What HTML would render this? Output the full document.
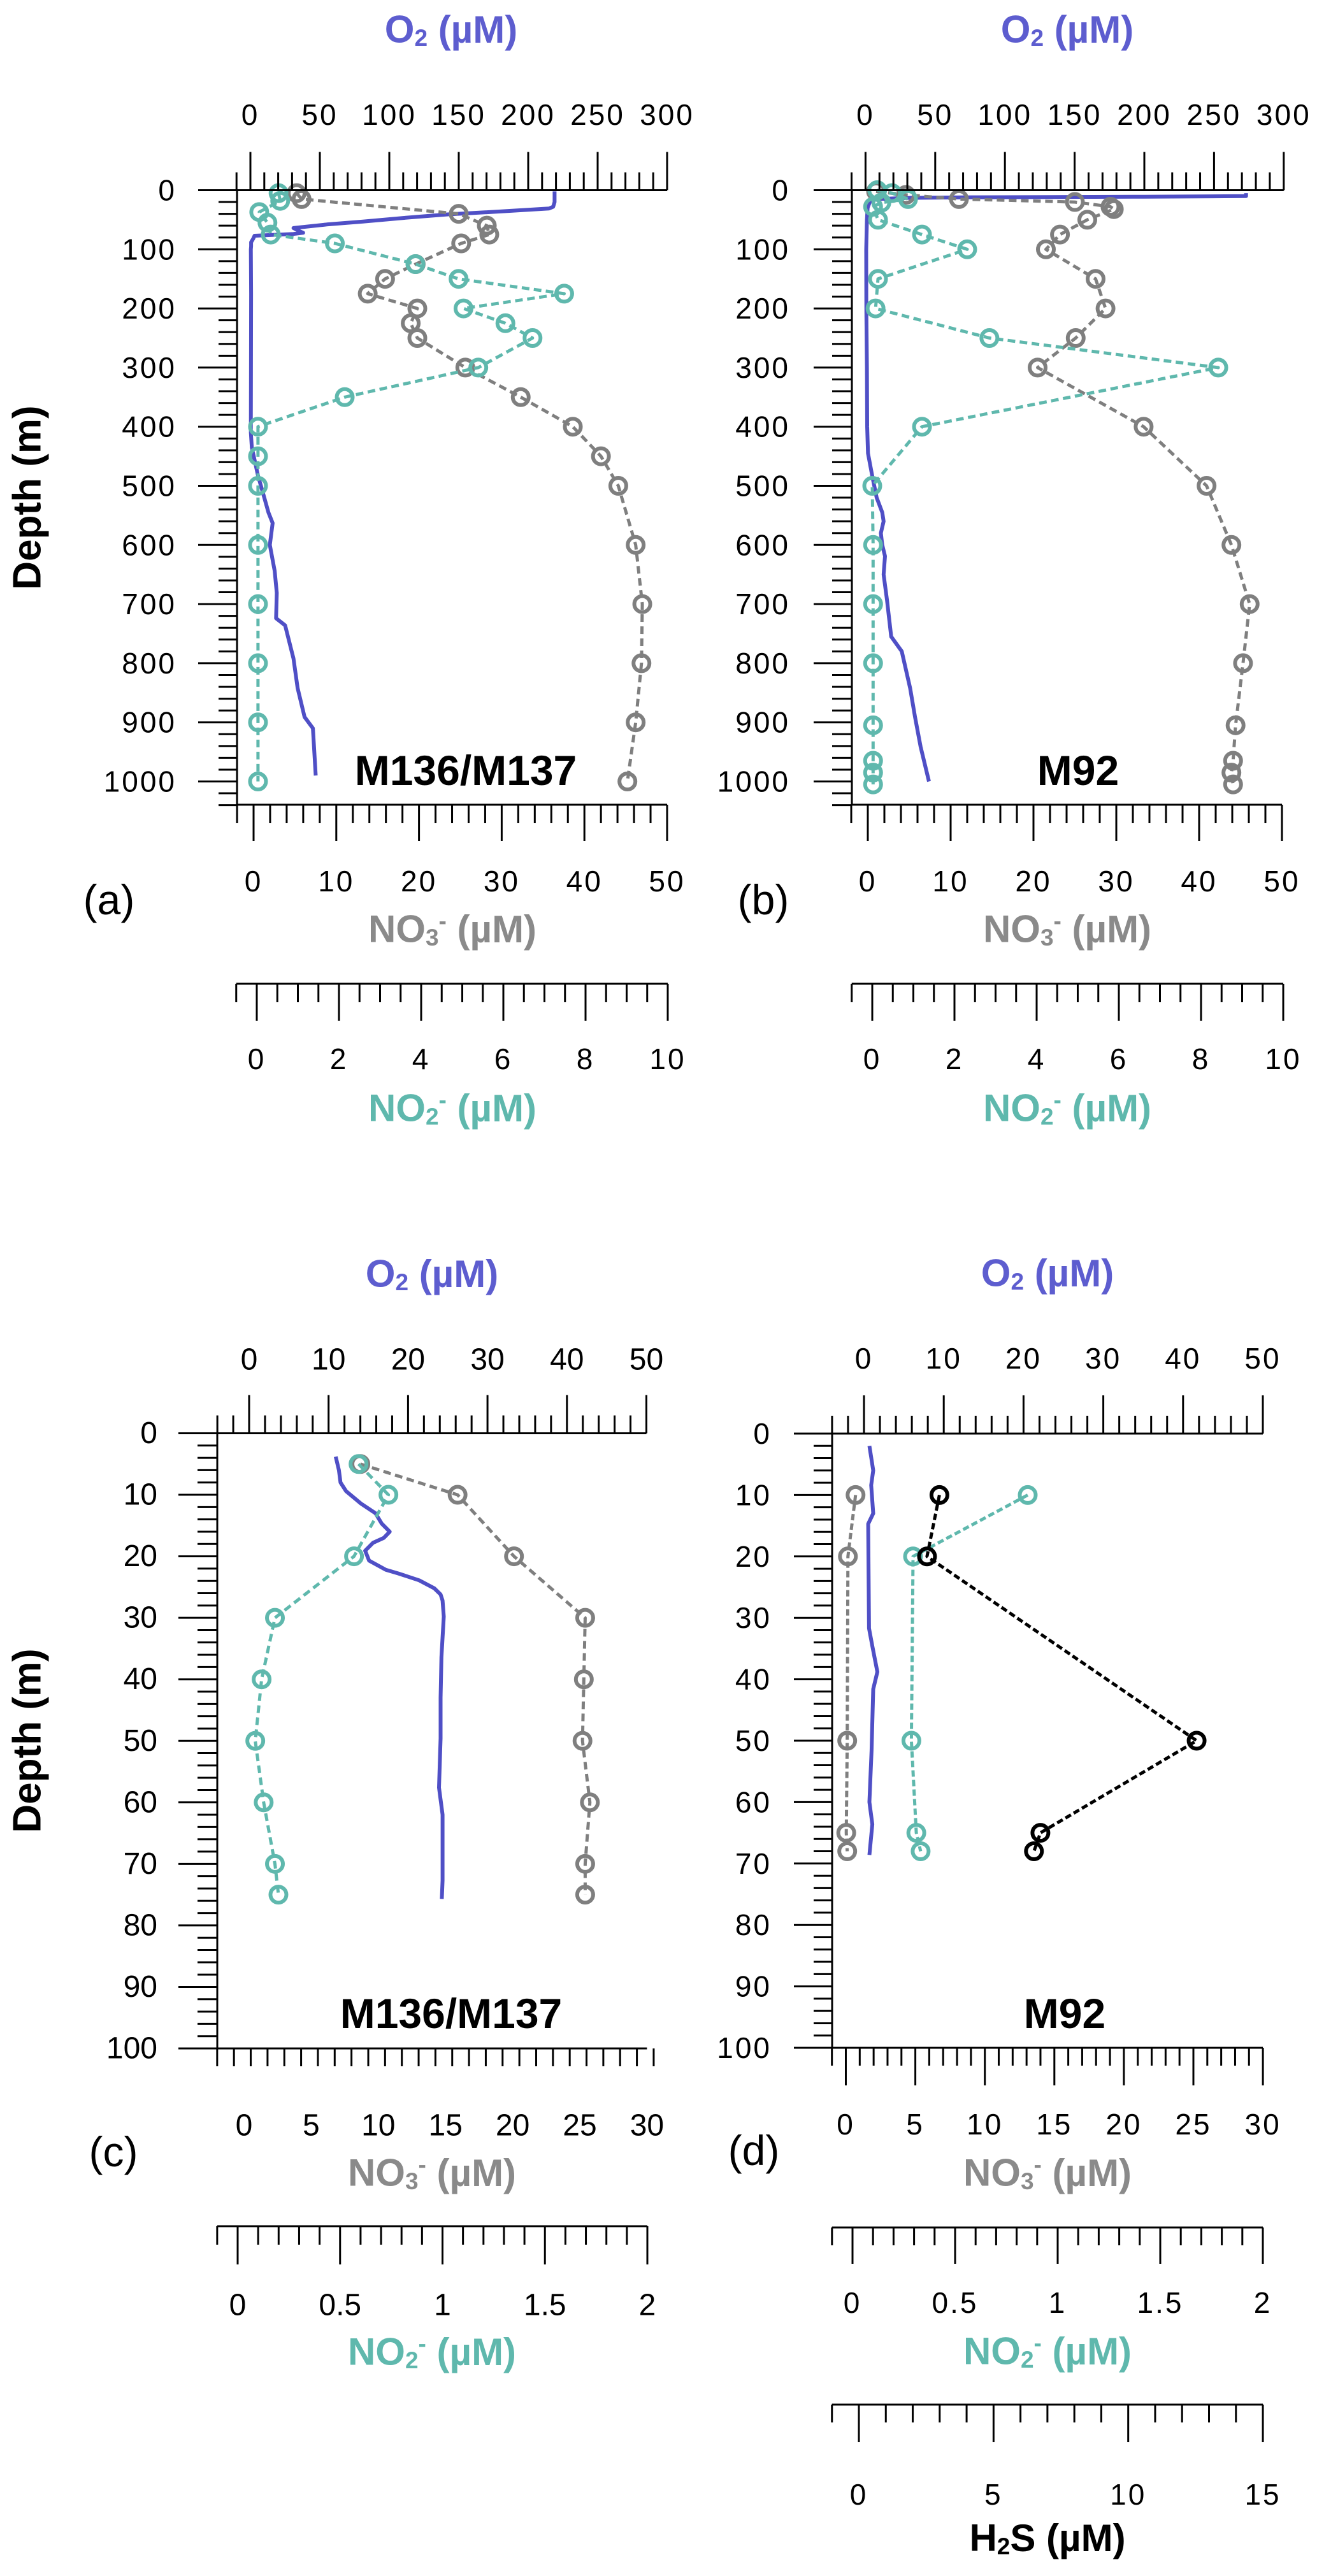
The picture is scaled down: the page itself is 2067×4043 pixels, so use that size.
<!DOCTYPE html>
<html><head><meta charset="utf-8"><style>
html,body{margin:0;padding:0;background:#fff;}
svg{display:block;}
text{font-family:"Liberation Sans",sans-serif;}
</style></head><body>
<svg id="fig" xmlns="http://www.w3.org/2000/svg" width="2067" height="4043" viewBox="0 0 2067 4043">
<rect width="2067" height="4043" fill="#fff"/>
</svg>
<script>
// ---------- data: panel a ----------
const aO2Depth = [2,10,20,28,31,36,41,47,53,58,64,70,72,74,77,82,88,95,100,175,410,435,483,520,545,563,600,644,681,724,736,792,842,891,910,990];
const aO2 = [219,219,219,218,215,180,142,110,81,55,31,36,38,31,3,2,0.5,0.5,0.3,0.5,0.3,1,5.5,10,13,16,14,17.5,19,18.5,25,31,34,39,45,47];
const aNO3Depth = [5,15,40,60,75,90,125,150,175,200,225,250,300,350,400,450,500,600,700,800,900,1000];
const aNO3 = [5.2,5.8,24.8,28.2,28.5,25.1,19.6,15.9,13.8,19.8,19.0,19.8,25.6,32.3,38.6,42.0,44.1,46.2,47.0,46.9,46.2,45.2];
const aNO2Depth = [5,18,37,55,75,90,125,150,175,200,225,250,300,350,400,450,500,600,700,800,900,1000];
const aNO2 = [0.53,0.57,0.06,0.26,0.34,1.90,3.86,4.91,7.48,5.03,6.05,6.71,5.39,2.14,0.03,0.03,0.03,0.03,0.03,0.03,0.03,0.03];
// ---------- data: panel b ----------
const bO2Depth = [5,10,11,12,13,15,20,30,50,100,200,300,400,445,483,520,545,560,580,600,619,650,693,755,780,842,891,941,1000];
const bO2 = [273,273,200,80,30,8,3,1.5,1,0.5,0.6,1,1.2,1.8,4.8,8,12,13,11,12,14,13,15.4,18.4,26,32,35.5,39.5,45.5];
const bNO3Depth = [2,8,15,20,28,32,50,75,100,150,200,250,300,400,500,600,700,800,905,965,985,1005];
const bNO3 = [1.0,4.6,11.0,25.0,29.3,29.7,26.5,23.2,21.5,27.5,28.7,25.1,20.5,33.3,40.9,43.9,46.1,45.3,44.4,44.1,43.9,44.1];
const bNO2Depth = [0,5,15,21,28,50,75,100,150,200,250,300,400,500,600,700,800,905,965,985,1005];
const bNO2 = [0.12,0.48,0.87,0.22,0.02,0.14,1.21,2.31,0.14,0.08,2.85,8.42,1.21,0.0,0.02,0.02,0.02,0.02,0.02,0.02,0.02];
// ---------- data: panel c ----------
const cO2Depth = [3.8,6,8,9.4,11.4,13,14.7,16,17,17.8,19.1,20.7,22.2,22.8,23.9,25.2,26.2,27.2,29.8,36.4,43,49.6,57.6,62,67,72.7,75.7];
const cO2 = [10.9,11.3,11.5,12.2,14.05,15.9,16.7,17.7,16.96,15.6,14.6,15.1,17.2,18.8,21.4,23.3,24.1,24.35,24.5,24.2,24.1,24.1,23.9,24.35,24.35,24.35,24.25];
const cNO3Depth = [5,10,20,30,40,50,60,70,75];
const cNO3 = [8.66,15.9,20.1,25.4,25.3,25.2,25.75,25.4,25.4];
const cNO2Depth = [5,10,20,30,40,50,60,70,75];
const cNO2 = [0.59,0.736,0.568,0.182,0.117,0.086,0.127,0.182,0.199];
// ---------- data: panel d ----------
const dO2Depth = [2,6,8.4,13,14.7,31.7,34.6,38.8,41.6,51.6,60,63.6,68.6];
const dO2 = [0.68,1.16,0.9,1.16,0.53,0.63,1.05,1.68,1.16,0.95,0.68,1.05,0.68];
const dNO3Depth = [10,20,50,65,68];
const dNO3 = [0.7,0.15,0.1,0.03,0.1];
const dNO2Depth = [10,20,50,65,68];
const dNO2 = [0.854,0.295,0.287,0.311,0.332];
const dH2SDepth = [10,20,50,65,68];
const dH2S = [2.99,2.53,12.54,6.74,6.5];
// ---------- tick labels ----------
const deepDepthTicks = [0,100,200,300,400,500,600,700,800,900,1000];
const shallowDepthTicks = [0,10,20,30,40,50,60,70,80,90,100];
const deepO2Ticks = [0,50,100,150,200,250,300];
const shallowO2Ticks = [0,10,20,30,40,50];
const deepNO3Ticks = [0,10,20,30,40,50];
const deepNO2Ticks = [0,2,4,6,8,10];
const shallowNO3Ticks = [0,5,10,15,20,25,30];
const shallowNO2Ticks = [0,0.5,1,1.5,2];
const h2sTicks = [0,5,10,15];

const NS='http://www.w3.org/2000/svg';
const svg=document.getElementById('fig');
const C_O2='#4f4fc6', C_O2T='#5d5dcf', C_NO3='#7f7f7f', C_NO3T='#8a8a8a', C_NO2='#5fb8ad';
let LS=0;
function mk(tag,attrs,parent){const e=document.createElementNS(NS,tag);for(const k in attrs)e.setAttribute(k,attrs[k]);(parent||svg).appendChild(e);return e;}

function hAxis(g,ax,labels,name,fs){
  const xs=v=>ax.x0+v*ax.ppu;
  const line=mk('line',{x1:xs(ax.min),x2:xs(ax.max),y1:ax.y,y2:ax.y,stroke:'#000','stroke-width':3},g);
  
  
  const n=Math.round((ax.max-ax.min)/ax.minor);
  for(let i=0;i<=n;i++){
    const v=ax.min+i*ax.minor; const x=xs(v);
    const isMajor=labels.some(l=>Math.abs(l-v)<1e-6);
    const len=isMajor?ax.majorLen:ax.minorLen;
    const t=mk('line',{x1:x,x2:x,y1:ax.y,y2:ax.y+ax.dir*len,stroke:'#000','stroke-width':3},g);
    
    
  }
  labels.forEach(l=>{
    const t=mk('text',{x:xs(l),y:ax.labelY,'text-anchor':'middle','dominant-baseline':'central','font-size':fs,'letter-spacing':LS},g);
    t.textContent=String(l);
    
    
  });
}
function vAxis(g,ax,labels,name,fs){
  const ys=d=>ax.y0+d*ax.ppu;
  const line=mk('line',{x1:ax.x,x2:ax.x,y1:ys(0),y2:ys(ax.max),stroke:'#000','stroke-width':3},g);
  
  
  const n=Math.round(ax.max/ax.minor);
  for(let i=0;i<=n;i++){
    const d=i*ax.minor; const y=ys(d);
    const isMajor=labels.some(l=>Math.abs(l-d)<1e-6);
    const t=mk('line',{x1:isMajor?ax.majorX1:ax.minorX1,x2:ax.x,y1:y,y2:y,stroke:'#000','stroke-width':3},g);
    
    
  }
  labels.forEach(l=>{
    const t=mk('text',{x:ax.labelRight,y:ys(l),'text-anchor':'end','dominant-baseline':'central','font-size':fs,'letter-spacing':LS},g);
    t.textContent=String(l);
    
    
  });
}
function series(g,xAx,yAx,depths,vals,color,name,markers,dash){
  const pts=depths.map((d,i)=>[xAx.x0+vals[i]*xAx.ppu, yAx.y0+d*yAx.ppu]);
  const p=mk('polyline',{points:pts.map(p=>p[0].toFixed(1)+','+p[1].toFixed(1)).join(' '),fill:'none',stroke:color,'stroke-width':markers?5:6,'stroke-dasharray':dash||'none','stroke-linejoin':'round'},g);
  
  
  if(markers){pts.forEach(pt=>{
    const c=mk('circle',{cx:pt[0],cy:pt[1],r:12.5,fill:'none',stroke:color,'stroke-width':6},g);
    
    
  });}
}
function title(g,x,y,kind,color,fs,name){
  const t=mk('text',{x:x,y:y,'text-anchor':'middle','dominant-baseline':'central','font-size':fs,'font-weight':'bold',fill:color},g);
  
  
  const sub=Math.round(fs*0.62), dy=Math.round(fs*0.22);
  if(kind==='O2') t.innerHTML='O<tspan font-size="'+sub+'" dy="'+dy+'">2</tspan><tspan dy="'+(-dy)+'"> (µM)</tspan>';
  if(kind==='NO3') t.innerHTML='NO<tspan font-size="'+sub+'" dy="'+dy+'">3</tspan><tspan font-size="'+sub+'" dy="'+(-2*dy)+'">-</tspan><tspan dy="'+dy+'"> (µM)</tspan>';
  if(kind==='NO2') t.innerHTML='NO<tspan font-size="'+sub+'" dy="'+dy+'">2</tspan><tspan font-size="'+sub+'" dy="'+(-2*dy)+'">-</tspan><tspan dy="'+dy+'"> (µM)</tspan>';
  if(kind==='H2S') t.innerHTML='H<tspan font-size="'+sub+'" dy="'+dy+'">2</tspan><tspan dy="'+(-dy)+'">S (µM)</tspan>';
}
function txt(g,x,y,s,fs,weight,name,anchor){
  const t=mk('text',{x:x,y:y,'text-anchor':anchor||'middle','dominant-baseline':'central','font-size':fs,'font-weight':weight},g);
  t.textContent=s;
  
  
  return t;
}
function depthTitle(g,x,y){
  const t=mk('text',{x:0,y:0,transform:'translate('+x+','+y+') rotate(-90)','text-anchor':'middle','dominant-baseline':'central','font-size':62,'font-weight':'bold'},g);
  t.textContent='Depth (m)';
  
  
}

// ---------- panel a ----------
(function(){
  LS=3;
  const g=mk('g',{});  
  const y={y0:298.5,ppu:0.928,max:1040,minor:20,x:372,majorX1:311,minorX1:343,labelRight:277};
  const o2={x0:393,ppu:2.18,min:-10,max:300,minor:10,y:298.5,dir:-1,majorLen:60,minorLen:28,labelY:180};
  const no3={x0:398,ppu:12.98,min:-2,max:50,minor:2,y:1263,dir:1,majorLen:57,minorLen:29,labelY:1383};
  const no2={x0:403,ppu:64.5,min:-0.5,max:10,minor:0.5,y:1544,dir:1,majorLen:58,minorLen:29,labelY:1662};
  series(g,o2,y,aO2Depth,aO2,C_O2,'o2-profile',false);
  series(g,no3,y,aNO3Depth,aNO3,C_NO3,'nitrate',true,'12 7');
  series(g,no2,y,aNO2Depth,aNO2,C_NO2,'nitrite',true,'12 7');
  vAxis(g,y,deepDepthTicks,'depth-axis',46);
  hAxis(g,o2,deepO2Ticks,'o2-axis',46);
  hAxis(g,no3,deepNO3Ticks,'no3-axis',46);
  hAxis(g,no2,deepNO2Ticks,'no2-axis',46);
  title(g,708,46,'O2',C_O2T,60,'o2-axis-title');
  title(g,710,1458,'NO3',C_NO3T,60,'no3-axis-title');
  title(g,710,1739,'NO2',C_NO2,60,'no2-axis-title');
  txt(g,171,1412,'(a)',66,'normal','panel-label');
  txt(g,731,1209,'M136/M137',66,'bold','cruise-label');
  depthTitle(g,43,781);
})();
// ---------- panel b ----------
(function(){
  LS=3;
  const g=mk('g',{});  
  const y={y0:298.5,ppu:0.928,max:1040,minor:20,x:1337,majorX1:1277,minorX1:1306,labelRight:1240};
  const o2={x0:1358.4,ppu:2.188,min:-10,max:300,minor:10,y:298.5,dir:-1,majorLen:60,minorLen:28,labelY:180};
  const no3={x0:1362,ppu:13.0,min:-2,max:50,minor:2,y:1263,dir:1,majorLen:57,minorLen:29,labelY:1383};
  const no2={x0:1369,ppu:64.5,min:-0.5,max:10,minor:0.5,y:1544,dir:1,majorLen:58,minorLen:29,labelY:1662};
  series(g,o2,y,bO2Depth,bO2,C_O2,'o2-profile',false);
  series(g,no3,y,bNO3Depth,bNO3,C_NO3,'nitrate',true,'12 7');
  series(g,no2,y,bNO2Depth,bNO2,C_NO2,'nitrite',true,'12 7');
  vAxis(g,y,deepDepthTicks,'depth-axis',46);
  hAxis(g,o2,deepO2Ticks,'o2-axis',46);
  hAxis(g,no3,deepNO3Ticks,'no3-axis',46);
  hAxis(g,no2,deepNO2Ticks,'no2-axis',46);
  title(g,1675,46,'O2',C_O2T,60,'o2-axis-title');
  title(g,1675,1458,'NO3',C_NO3T,60,'no3-axis-title');
  title(g,1675,1739,'NO2',C_NO2,60,'no2-axis-title');
  txt(g,1198,1412,'(b)',66,'normal','panel-label');
  txt(g,1692,1209,'M92',66,'bold','cruise-label');
})();
// ---------- panel c ----------
(function(){
  LS=0;
  const g=mk('g',{});  
  const y={y0:2249.5,ppu:9.655,max:100,minor:2,x:341,majorX1:280,minorX1:310,labelRight:247};
  const o2={x0:391,ppu:12.47,min:-4,max:50,minor:2,y:2249.5,dir:-1,majorLen:60,minorLen:28,labelY:2134};
  const no3={x0:383,ppu:21.08,min:-2,max:30,minor:1.25,y:3215,dir:1,majorLen:60,minorLen:28,labelY:3336};
  const no2={x0:373,ppu:321.5,min:-0.1,max:2,minor:0.1,y:3494,dir:1,majorLen:60,minorLen:29,labelY:3618};
  series(g,o2,y,cO2Depth,cO2,C_O2,'o2-profile',false);
  series(g,no3,y,cNO3Depth,cNO3,C_NO3,'nitrate',true,'12 7');
  series(g,no2,y,cNO2Depth,cNO2,C_NO2,'nitrite',true,'12 7');
  vAxis(g,y,shallowDepthTicks,'depth-axis',48);
  hAxis(g,o2,shallowO2Ticks,'o2-axis',48);
  hAxis(g,no3,shallowNO3Ticks,'no3-axis',48);
  hAxis(g,no2,shallowNO2Ticks,'no2-axis',48);
  title(g,678,1999,'O2',C_O2T,60,'o2-axis-title');
  title(g,678,3410,'NO3',C_NO3T,60,'no3-axis-title');
  title(g,678,3691,'NO2',C_NO2,60,'no2-axis-title');
  txt(g,178,3377,'(c)',66,'normal','panel-label');
  txt(g,708,3160,'M136/M137',66,'bold','cruise-label');
  depthTitle(g,43,2732);
})();
// ---------- panel d ----------
(function(){
  LS=3;
  const g=mk('g',{});  
  const y={y0:2250,ppu:9.64,max:100,minor:2,x:1306,majorX1:1246,minorX1:1277,labelRight:1211};
  const o2={x0:1356,ppu:12.52,min:-4,max:50,minor:2,y:2250,dir:-1,majorLen:60,minorLen:28,labelY:2132};
  const no3={x0:1327.5,ppu:21.82,min:-1,max:30,minor:1,y:3214,dir:1,majorLen:59,minorLen:28,labelY:3334};
  const no2={x0:1338,ppu:322,min:-0.1,max:2,minor:0.1,y:3496,dir:1,majorLen:57,minorLen:28,labelY:3614};
  const h2s={x0:1348,ppu:42.27,min:-1,max:15,minor:1,y:3774,dir:1,majorLen:59,minorLen:28,labelY:3915};
  series(g,o2,y,dO2Depth,dO2,C_O2,'o2-profile',false);
  series(g,no3,y,dNO3Depth,dNO3,C_NO3,'nitrate',true,'10 5');
  series(g,no2,y,dNO2Depth,dNO2,C_NO2,'nitrite',true,'10 5');
  series(g,h2s,y,dH2SDepth,dH2S,'#000','sulfide',true,'10 5');
  vAxis(g,y,shallowDepthTicks,'depth-axis',46);
  hAxis(g,o2,shallowO2Ticks,'o2-axis',46);
  hAxis(g,no3,shallowNO3Ticks,'no3-axis',46);
  hAxis(g,no2,shallowNO2Ticks,'no2-axis',46);
  hAxis(g,h2s,h2sTicks,'h2s-axis',46);
  title(g,1644,1998,'O2',C_O2T,60,'o2-axis-title');
  title(g,1644,3410,'NO3',C_NO3T,60,'no3-axis-title');
  title(g,1644,3690,'NO2',C_NO2,60,'no2-axis-title');
  title(g,1644,3983,'H2S','#000',60,'h2s-axis-title');
  txt(g,1183,3375,'(d)',66,'normal','panel-label');
  txt(g,1671,3160,'M92',66,'bold','cruise-label');
})();
</script>
</body></html>
